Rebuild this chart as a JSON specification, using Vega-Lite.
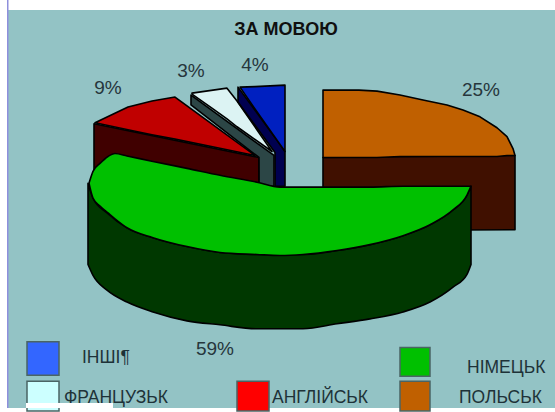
{
"$schema":"https://vega.github.io/schema/vega-lite/v6.json",
"width":555,"height":412,"padding":0,
"autosize":{"type":"fit","contains":"padding"},
"background":"#ffffff",
"config":{"view":{"stroke":null}},
"datasets":{
"panels":[
{"part":"plot","x":8,"x2":555,"y":10,"y2":412},
{"part":"edge","x":7,"x2":8.5,"y":0,"y2":412}
],
"swatches":[
{"part":"ІНШІ","x":27,"x2":59,"y":345,"y2":379},
{"part":"ФРАНЦУЗЬК","x":27,"x2":59,"y":385,"y2":415},
{"part":"АНГЛІЙСЬК","x":237,"x2":269,"y":385,"y2":415},
{"part":"НІМЕЦЬК","x":400,"x2":430,"y":351,"y2":380},
{"part":"ПОЛЬСЬК","x":400,"x2":430,"y":385,"y2":415}
],
"cover":[{"part":"white","x":26,"x2":113,"y":407,"y2":412}],
"slices":[
{"part":"polish side","x":323,"y":159,"y2":233},{"part":"polish side","x":515,"y":157,"y2":232},
{"part":"polish top","x":323,"y":91,"y2":159},{"part":"polish top","x":359,"y":91,"y2":159},{"part":"polish top","x":377,"y":92,"y2":159},{"part":"polish top","x":400,"y":96,"y2":158},{"part":"polish top","x":423,"y":101,"y2":158},{"part":"polish top","x":447,"y":106,"y2":158},{"part":"polish top","x":463,"y":111,"y2":158},{"part":"polish top","x":480,"y":118,"y2":158},{"part":"polish top","x":497,"y":129,"y2":158},{"part":"polish top","x":507,"y":138,"y2":157},{"part":"polish top","x":513,"y":150,"y2":157},{"part":"polish top","x":515,"y":157,"y2":157},
{"part":"english side","x":94,"y":125,"y2":200},{"part":"english side","x":259,"y":159,"y2":200},
{"part":"english top","x":95,"y":124,"y2":124},{"part":"english top","x":128,"y":108,"y2":131},{"part":"english top","x":152,"y":102,"y2":136},{"part":"english top","x":175,"y":98,"y2":140.5},{"part":"english top","x":255,"y":157,"y2":157},
{"part":"french side","x":191,"y":96,"y2":106},{"part":"french side","x":259,"y":146,"y2":159},{"part":"french side","x":259.1,"y":146,"y2":188},{"part":"french side","x":274,"y":157,"y2":188},
{"part":"french top","x":192,"y":94,"y2":95},{"part":"french top","x":213,"y":91,"y2":110},{"part":"french top","x":227,"y":89,"y2":120},{"part":"french top","x":237,"y":102,"y2":128},{"part":"french top","x":272,"y":153,"y2":153},
{"part":"other side","x":238,"y":88,"y2":103},{"part":"other side","x":275,"y":139,"y2":154},{"part":"other side","x":275.1,"y":139,"y2":188},{"part":"other side","x":285,"y":153,"y2":188},
{"part":"other top","x":240,"y":88,"y2":88},{"part":"other top","x":255,"y":87.5,"y2":110},{"part":"other top","x":285,"y":86,"y2":153}
],
"german":[
{"part":"german side","x":88,"y":185,"y2":267},{"part":"german side","x":93,"y":200,"y2":278},{"part":"german side","x":107,"y":215,"y2":293},{"part":"german side","x":127,"y":230,"y2":305},{"part":"german side","x":153,"y":240,"y2":315},{"part":"german side","x":187,"y":249,"y2":324},{"part":"german side","x":220,"y":255,"y2":328},{"part":"german side","x":257,"y":257,"y2":332},{"part":"german side","x":303,"y":257,"y2":332},{"part":"german side","x":337,"y":253,"y2":327},{"part":"german side","x":370,"y":247,"y2":322},{"part":"german side","x":403,"y":238,"y2":315},{"part":"german side","x":430,"y":227,"y2":305},{"part":"german side","x":453,"y":212,"y2":290},{"part":"german side","x":467,"y":197,"y2":277},{"part":"german side","x":471,"y":188,"y2":267},
{"part":"german top","x":89,"y":185,"y2":185},{"part":"german top","x":93,"y":173,"y2":200},{"part":"german top","x":100,"y":165,"y2":208},{"part":"german top","x":108,"y":158,"y2":215},{"part":"german top","x":115,"y":155,"y2":221},{"part":"german top","x":127,"y":157.5,"y2":230},{"part":"german top","x":153,"y":163,"y2":240},{"part":"german top","x":187,"y":170,"y2":249},{"part":"german top","x":220,"y":177,"y2":255},{"part":"german top","x":257,"y":184,"y2":257},{"part":"german top","x":280,"y":189,"y2":258},{"part":"german top","x":303,"y":189,"y2":257},{"part":"german top","x":337,"y":189,"y2":253},{"part":"german top","x":370,"y":189,"y2":247},{"part":"german top","x":403,"y":188,"y2":238},{"part":"german top","x":430,"y":188,"y2":227},{"part":"german top","x":453,"y":188,"y2":212},{"part":"german top","x":467,"y":188,"y2":197},{"part":"german top","x":471,"y":188,"y2":188}
],
"percents":[
{"label":"9%","x":108,"y":89},{"label":"3%","x":191,"y":72},{"label":"4%","x":255,"y":66},{"label":"25%","x":481,"y":91},{"label":"59%","x":215,"y":352}
],
"legendtext":[
{"label":"ІНШІ¶","x":82,"y":362},{"label":"ФРАНЦУЗЬК","x":64,"y":402},{"label":"АНГЛІЙСЬК","x":272,"y":402},{"label":"НІМЕЦЬК","x":467,"y":372},{"label":"ПОЛЬСЬК","x":459,"y":402}
],
"titletext":[{"label":"ЗА МОВОЮ","x":286,"y":30}]
},
"layer":[
{"data":{"name":"panels"},"mark":{"type":"rect"},
 "encoding":{"x":{"field":"x","type":"quantitative","scale":{"domain":[0,555],"nice":false,"zero":false},"axis":null},"x2":{"field":"x2"},
 "y":{"field":"y","type":"quantitative","scale":{"domain":[412,0],"nice":false,"zero":false},"axis":null},"y2":{"field":"y2"},
 "color":{"field":"part","type":"nominal","legend":null,"scale":{"domain":["plot","edge"],"range":["#93c3c5","#8f8fdc"]}}}},
{"data":{"name":"slices"},"mark":{"type":"area","orient":"vertical","stroke":"#000000","strokeWidth":1.6,"strokeJoin":"round"},
 "encoding":{"x":{"field":"x","type":"quantitative","axis":null},
 "y":{"field":"y","type":"quantitative","axis":null},"y2":{"field":"y2"},
 "color":{"field":"part","type":"nominal","legend":null,"sort":null,"scale":{"domain":["polish side","polish top","english side","english top","french side","french top","other side","other top"],"range":["#401000","#c06000","#400000","#c00000","#2c4646","#dcf3f3","#000050","#0020c0"]}}}},
{"data":{"name":"german"},"mark":{"type":"area","orient":"vertical","interpolate":"monotone","stroke":"#000000","strokeWidth":1.6,"strokeJoin":"round"},
 "encoding":{"x":{"field":"x","type":"quantitative","axis":null},
 "y":{"field":"y","type":"quantitative","axis":null},"y2":{"field":"y2"},
 "color":{"field":"part","type":"nominal","legend":null,"sort":null,"scale":{"domain":["german side","german top"],"range":["#003800","#00c000"]}}}},
{"data":{"name":"swatches"},"mark":{"type":"rect","stroke":"#4a6464","strokeWidth":1.5},
 "encoding":{"x":{"field":"x","type":"quantitative","axis":null},"x2":{"field":"x2"},
 "y":{"field":"y","type":"quantitative","axis":null},"y2":{"field":"y2"},
 "color":{"field":"part","type":"nominal","legend":null,"scale":{"domain":["ІНШІ","ФРАНЦУЗЬК","АНГЛІЙСЬК","НІМЕЦЬК","ПОЛЬСЬК"],"range":["#3366ff","#ccffff","#ff0000","#00c000","#c06000"]}}}},
{"data":{"name":"legendtext"},"mark":{"type":"text","align":"left","baseline":"middle","font":"Liberation Sans","fontSize":17.5,"color":"#1e3238"},
 "encoding":{"x":{"field":"x","type":"quantitative","axis":null},"y":{"field":"y","type":"quantitative","axis":null},"text":{"field":"label"}}},
{"data":{"name":"percents"},"mark":{"type":"text","align":"center","baseline":"middle","font":"Liberation Sans","fontSize":19,"color":"#26363c"},
 "encoding":{"x":{"field":"x","type":"quantitative","axis":null},"y":{"field":"y","type":"quantitative","axis":null},"text":{"field":"label"}}},
{"data":{"name":"titletext"},"mark":{"type":"text","align":"center","baseline":"middle","font":"Liberation Sans","fontWeight":"bold","fontSize":18,"color":"#101010"},
 "encoding":{"x":{"field":"x","type":"quantitative","axis":null},"y":{"field":"y","type":"quantitative","axis":null},"text":{"field":"label"}}},
{"data":{"name":"cover"},"mark":{"type":"rect","color":"#ffffff"},
 "encoding":{"x":{"field":"x","type":"quantitative","axis":null},"x2":{"field":"x2"},
 "y":{"field":"y","type":"quantitative","axis":null},"y2":{"field":"y2"}}}
],
"resolve":{"scale":{"color":"independent"}}
}
